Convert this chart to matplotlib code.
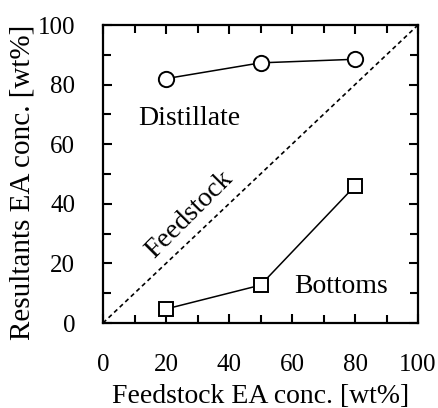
import matplotlib
matplotlib.use("Agg")
import matplotlib.pyplot as plt
from matplotlib.ticker import MultipleLocator

feed_x = [20, 50, 80]
distillate = [82, 87.3, 88.5]
bottoms = [4.7, 12.7, 46]
diag = [0, 100]

plt.rcParams['font.family'] = ['Liberation Serif']
FS_TICK = 18
FS = 20
fig = plt.figure(figsize=(4.38, 4.08), dpi=100)
ax = fig.add_axes([103/438, 1-323/408, 315/438, 298/408])

ax.plot(diag, diag, 'k--', lw=1.2, dashes=(2.6, 2.0))
ax.plot(feed_x, distillate, 'k-', marker='o', ms=11, mfc='white', mec='black', mew=1.4, lw=1.1)
ax.plot(feed_x, bottoms, 'k-', marker='s', ms=10, mfc='white', mec='black', mew=1.4, lw=1.1)

ax.set_xlim(0, 100)
ax.set_ylim(0, 100)
ax.xaxis.set_major_locator(MultipleLocator(20))
ax.yaxis.set_major_locator(MultipleLocator(20))
ax.xaxis.set_minor_locator(MultipleLocator(10))
ax.yaxis.set_minor_locator(MultipleLocator(10))
ax.tick_params(which='both', direction='in', top=True, right=True, labelsize=FS_TICK, width=1.5)
ax.tick_params(which='major', length=6.5, pad=22)
ax.tick_params(which='minor', length=5.5)
ax.tick_params(axis='y', which='major', pad=20)
for s in ax.spines.values():
    s.set_linewidth(1.6)

ax.text(27.5, 66.4, 'Distillate', fontsize=FS, ha='center', va='baseline')
ax.text(75.7, 10.1, 'Bottoms', fontsize=FS, ha='center', va='baseline')
ax.text(27.3, 36.2, 'Feedstock', fontsize=FS, ha='center', va='center', rotation=45, rotation_mode='anchor')

ax.set_xlabel('Feedstock EA conc. [wt%]', fontsize=FS, labelpad=6)
ax.set_ylabel('Resultants EA conc. [wt%]', fontsize=21)
ax.yaxis.set_label_coords(-0.215, 0.473)

fig.savefig('out.png', dpi=100)
